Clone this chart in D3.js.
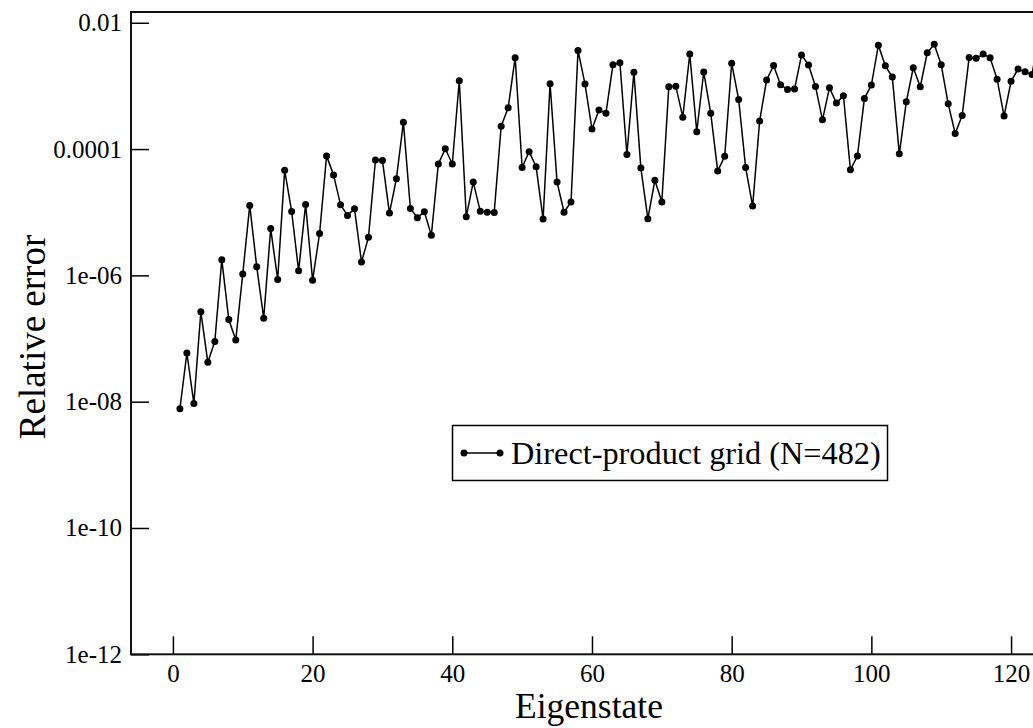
<!DOCTYPE html>
<html>
<head>
<meta charset="utf-8">
<script src="https://cdn.jsdelivr.net/npm/d3@7"></script>
<style>
body{margin:0;background:#fff;overflow:hidden;}
text{font-family:"Liberation Serif","DejaVu Serif",serif;fill:#000;}
</style>
</head>
<body>
<div id="chart"></div>
<script>
// relative error per eigenstate
var states=d3.range(1,125);
var relErr=[
	7.7e-9,5.9e-8,9.4e-9,2.65e-7,4.2e-8,9.0e-8,1.77e-6,2.0e-7,9.5e-8,1.05e-6,
	1.28e-5,1.37e-6,2.1e-7,5.5e-6,8.6e-7,4.6e-5,1.03e-5,1.18e-6,1.33e-5,8.4e-7,
	4.6e-6,7.8e-5,3.9e-5,1.31e-5,8.9e-6,1.13e-5,1.63e-6,4.0e-6,6.7e-5,6.6e-5,
	9.7e-6,3.4e-5,2.65e-4,1.15e-5,8.2e-6,1.02e-5,4.3e-6,5.8e-5,1.01e-4,5.78e-5,
	1.21e-3,8.5e-6,3.0e-5,1.04e-5,1.0e-5,9.9e-6,2.3e-4,4.5e-4,2.8e-3,5.1e-5,
	9.1e-5,5.25e-5,7.8e-6,1.08e-3,3.0e-5,1.0e-5,1.45e-5,3.65e-3,1.07e-3,2.07e-4,
	4.15e-4,3.7e-4,2.16e-3,2.33e-3,8.2e-5,1.64e-3,5.0e-5,7.9e-6,3.2e-5,1.45e-5,
	9.7e-4,9.9e-4,3.2e-4,3.2e-3,1.88e-4,1.66e-3,3.7e-4,4.5e-5,7.7e-5,2.28e-3,
	6.1e-4,5.1e-5,1.25e-5,2.77e-4,1.24e-3,2.1e-3,1.04e-3,8.8e-4,8.9e-4,3.08e-3,
	2.15e-3,9.8e-4,2.9e-4,9.35e-4,5.35e-4,6.98e-4,4.7e-5,7.75e-5,6.3e-4,1.03e-3,
	4.4e-3,2.08e-3,1.38e-3,8.4e-5,5.6e-4,1.94e-3,9.7e-4,3.35e-3,4.55e-3,2.16e-3,
	5.2e-4,1.77e-4,3.4e-4,2.83e-3,2.73e-3,3.19e-3,2.79e-3,1.28e-3,3.33e-4,1.18e-3,
	1.85e-3,1.67e-3,1.52e-3,6.5e-3
];
var xTicks=[0,20,40,60,80,100,120];
var yTicks=[1e-12,1e-10,1e-8,1e-6,1e-4,1e-2];
var yTickLabels=["1e-12","1e-10","1e-08","1e-06","0.0001","0.01"];
var seriesName="Direct-product grid (N=482)";

var width=1033, height=728;
var plotL=131, plotT=12, plotB=654.3, plotR=1047; // right edge falls outside the window

var svg=d3.select("#chart").append("svg")
	.attr("width",width).attr("height",height);

var x=d3.scaleLinear().domain([-6,124]).range([plotL,1039]);
var y=d3.scaleLog().domain([1e-12,0.0148]).range([plotB,plotT]);

// series line + dots, clipped to the frame
svg.append("clipPath").attr("id","plotclip")
	.append("rect").attr("x",plotL).attr("y",plotT).attr("width",plotR-plotL).attr("height",plotB-plotT);
var plot=svg.append("g").attr("clip-path","url(#plotclip)");
var pts=states.map(function(s,i){return {s:s,v:relErr[i]};});
plot.append("path").datum(pts)
	.attr("fill","none").attr("stroke","#000").attr("stroke-width",1.5)
	.attr("d",d3.line().x(function(d){return x(d.s);}).y(function(d){return y(d.v);}));
plot.selectAll("circle").data(pts).enter().append("circle")
	.attr("cx",function(d){return x(d.s);})
	.attr("cy",function(d){return y(d.v);})
	.attr("r",3.5).attr("fill","#000");

// axes, ticks pointing inward
var xAxis=svg.append("g").attr("transform","translate(0,"+plotB+")")
	.call(d3.axisBottom(x).tickValues(xTicks).tickSizeInner(-18).tickSizeOuter(0).tickPadding(10));
var yAxis=svg.append("g").attr("transform","translate("+plotL+",0)")
	.call(d3.axisLeft(y).tickValues(yTicks).tickFormat(function(d,i){return yTickLabels[i];})
		.tickSizeInner(-18).tickSizeOuter(0).tickPadding(9));
[xAxis,yAxis].forEach(function(a){
	a.attr("font-family","Liberation Serif").attr("font-size",25);
	a.select(".domain").remove();
	a.selectAll(".tick line").attr("stroke","#000").attr("stroke-width",1.5);
});

// frame
svg.append("rect").attr("x",plotL).attr("y",plotT).attr("width",plotR-plotL).attr("height",plotB-plotT)
	.attr("fill","none").attr("stroke","#111").attr("stroke-width",2);

// titles
svg.append("text").attr("x",589).attr("y",718).attr("text-anchor","middle")
	.attr("font-size",35.5).text("Eigenstate");
svg.append("text").attr("transform","translate(45,337) rotate(-90)")
	.attr("text-anchor","middle").attr("font-size",37).text("Relative error");

// legend
var lg=svg.append("g");
lg.append("rect").attr("x",452.5).attr("y",425.5).attr("width",435).attr("height",55)
	.attr("fill","#fff").attr("stroke","#000").attr("stroke-width",1.5);
lg.append("line").attr("x1",464).attr("x2",500).attr("y1",453).attr("y2",453)
	.attr("stroke","#000").attr("stroke-width",1.5);
lg.selectAll("circle").data([464,500]).enter().append("circle")
	.attr("cx",function(d){return d;}).attr("cy",453).attr("r",3.5).attr("fill","#000");
lg.append("text").attr("x",511).attr("y",464).attr("font-size",32.3).text(seriesName);
</script>
</body>
</html>
